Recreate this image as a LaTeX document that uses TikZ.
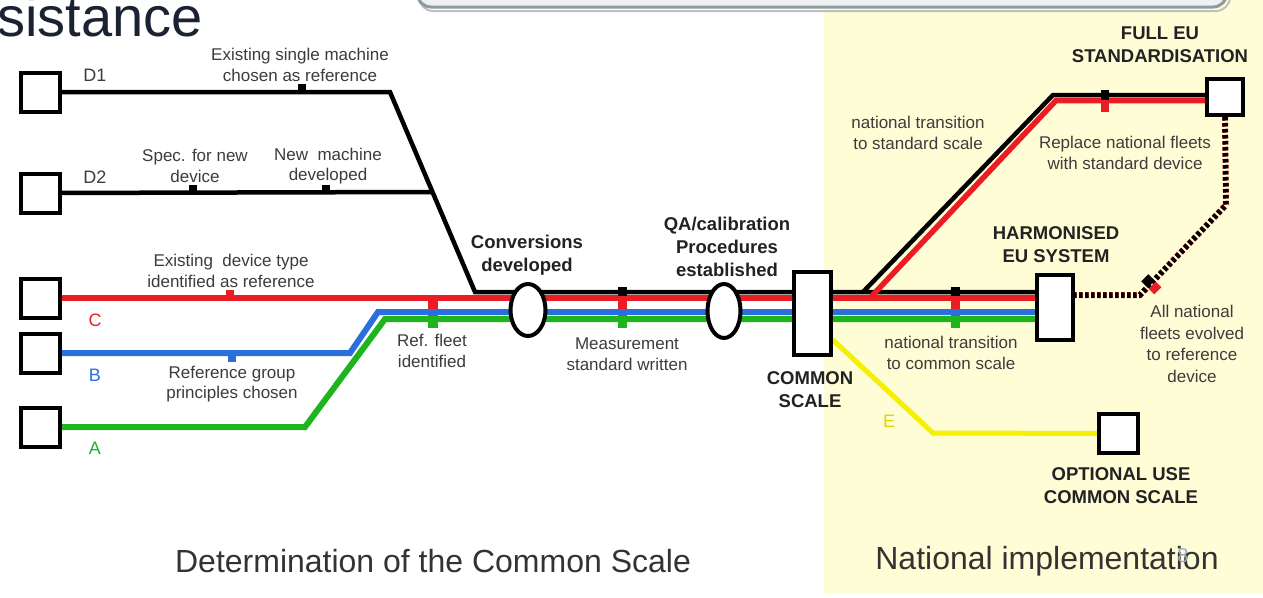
\documentclass[tikz,border=0pt]{standalone}
\usepackage{fontspec}
\setmainfont{Liberation Sans}
\usetikzlibrary{shapes.geometric}
\pgfdeclarelayer{bg}
\pgfdeclarelayer{lines}
\pgfsetlayers{bg,lines,main}
\definecolor{lred}{HTML}{EC1C24}
\definecolor{lblue}{HTML}{2A6FDB}
\definecolor{lgreen}{HTML}{1EB41E}
\definecolor{lyel}{HTML}{F4F000}
\definecolor{bgyel}{HTML}{FEFDD6}
\definecolor{labgray}{HTML}{3C3C3C}
\definecolor{boldgray}{HTML}{222222}
\definecolor{titlec}{HTML}{1B2232}
\definecolor{bottomc}{HTML}{333333}
\definecolor{boxgray}{HTML}{8E9A9E}
\definecolor{boxfill}{HTML}{EEF1F1}
\definecolor{pagenum}{HTML}{9AA8C0}
\begin{document}
\begin{tikzpicture}[x=1pt,y=-1pt,
  sqbox/.style={draw=black, line width=4pt, fill=white, inner sep=0pt, minimum width=39pt, minimum height=39pt},
  ovalbox/.style={ellipse, draw=black, line width=4pt, fill=white, inner sep=0pt},
  lbl/.style={text=labgray, align=center, inner sep=0pt, font=\fontsize{17}{20.5}\selectfont},
  blbl/.style={text=boldgray, align=center, inner sep=0pt, font=\bfseries\fontsize{18.5}{23}\selectfont},
  biglbl/.style={text=bottomc, inner sep=0pt, font=\fontsize{32}{36}\selectfont},
  blk/.style={draw=black, line width=4.5pt},
  redl/.style={draw=lred, line width=6pt},
  bluel/.style={draw=lblue, line width=6pt},
  greenl/.style={draw=lgreen, line width=6pt},
  yell/.style={draw=lyel, line width=5pt},
  dotl/.style={dash pattern=on 3.5pt off 2.5pt}
]
\useasboundingbox (0,0) rectangle (1263,597);

% ---------- background ----------
\begin{pgfonlayer}{bg}
  \fill[white] (0,0) rectangle (1263,597);
  \fill[bgyel] (824,0) rectangle (1263,593);
  \draw[line width=2pt, draw=black!25, rounded corners=14pt] (419,-40) rectangle (1230,11);
  \draw[line width=3pt, draw=boxgray, fill=boxfill, rounded corners=14pt] (417,-40) rectangle (1227,7);
\end{pgfonlayer}

\node[anchor=base west, inner sep=0pt, text=titlec, font=\fontsize{56}{60}\selectfont] (title) at (-3,36) {sistance};

% ---------- boxes ----------
\node[sqbox] (d1) at (40,92) {};
\node[sqbox] (d2) at (40,193) {};
\node[sqbox] (c) at (40,298) {};
\node[sqbox] (b) at (40,353) {};
\node[sqbox] (a) at (40,427) {};
\node[ovalbox, minimum width=35pt, minimum height=52pt] (conv) at (528,310) {};
\node[ovalbox, minimum width=33pt, minimum height=54pt] (qa) at (724,311) {};
\node[sqbox, minimum width=37pt, minimum height=83pt] (common) at (812.5,313.5) {};
\node[sqbox, minimum width=36pt, minimum height=65pt] (harm) at (1055,307.5) {};
\node[sqbox, minimum width=36pt, minimum height=36pt] (fulleu) at (1225,97) {};
\node[sqbox] (opt) at (1118.5,433.5) {};

% ---------- bend coordinates ----------
\coordinate (d1k) at (390,92);
\coordinate (m) at (475,292);
\coordinate (d2k) at (432.5,192);
\coordinate (bk1) at (350,353);
\coordinate (bk2) at (378,312);
\coordinate (ak1) at (305,427);
\coordinate (ak2) at (385,319);
\coordinate (br0) at (863,292);
\coordinate (br1) at (1053,95);
\coordinate (rr0) at (870,298);
\coordinate (rr1) at (1056,100.5);
\coordinate (dt1) at (1226,205);
\coordinate (dt2) at (1140,295);
\coordinate (yk) at (933,433);

% ---------- lines ----------
\begin{pgfonlayer}{lines}
  \draw[blk] (d1) -- (d1k) -- (m) -- (m -| harm.west);
  \draw[blk] (d2) -- (d2k);
  \draw[redl] (c) -- (c -| harm.west);
  \draw[bluel] (b) -- (bk1) -- (bk2) -- (bk2 -| harm.west);
  \draw[greenl] (a) -- (ak1) -- (ak2) -- (ak2 -| harm.west);
  \draw[redl, line width=5.5pt] (rr0) -- (rr1) -- (rr1 -| fulleu.west);
  \draw[blk] (br0) -- (br1) -- (br1 -| fulleu.west);
  \draw[yell] ([yshift=-26.5pt]common.east) -- (yk) -- (opt);
  % dotted route
  \draw[draw=lred, line width=6pt, dotl, xshift=3pt, yshift=-3pt] (fulleu.south) -- (dt1) -- (dt2) -- (dt2 -| harm.east);
  \draw[draw=black, line width=5.5pt, dotl] (fulleu.south) -- (dt1) -- (dt2) -- (dt2 -| harm.east);
  % ticks on D lines
  \fill[black] (298,84) rectangle (306,92);
  \fill[black] (189,185) rectangle (197,193);
  \fill[black] (322,185) rectangle (330,193);
  % ticks on C and B
  \fill[lred] (226,290) rectangle (234,298);
  \fill[lblue] (228,352) rectangle (236,362);
  % trunk ticks
  \fill[lred] (428,296) rectangle (438,309);
  \fill[lblue] (428,309) rectangle (438,316);
  \fill[lgreen] (428,316) rectangle (438,328);
  \foreach \tx in {618,951}{
    \fill[black] (\tx,287) rectangle (\tx+9,296);
    \fill[lred] (\tx,296) rectangle (\tx+9,309);
    \fill[lblue] (\tx,309) rectangle (\tx+9,316);
    \fill[lgreen] (\tx,316) rectangle (\tx+9,328);
  }
  % tick on top branch
  \fill[black] (1101,90) rectangle (1109,100);
  \fill[lred] (1101,100) rectangle (1109,112);
  % tick on dotted diagonal
  \node[fill=black, inner sep=0pt, minimum width=10pt, minimum height=9pt, rotate=45] (dtk1) at (1148,281) {};
  \node[fill=lred, inner sep=0pt, minimum width=10pt, minimum height=8pt, rotate=45] (dtk2) at (1155,288) {};
\end{pgfonlayer}

% ---------- labels ----------
\node[lbl, font=\fontsize{18}{20}\selectfont] (ld1) at (95,75) {D1};
\node[lbl, font=\fontsize{18}{20}\selectfont] (ld2) at (95,177) {D2};
\node[lbl, text=lred, font=\fontsize{18}{20}\selectfont] (lc) at (95,320) {C};
\node[lbl, text=lblue, font=\fontsize{18}{20}\selectfont] (lb) at (95,375) {B};
\node[lbl, text=lgreen, font=\fontsize{18}{20}\selectfont] (la) at (95,448) {A};
\node[lbl, text=lyel!90!black, font=\fontsize{18}{20}\selectfont] (le) at (889,421) {E};

\node[lbl] (t1) at (300,65) {Existing single machine\\chosen as reference};
\node[lbl] (t2) at (195,166) {Spec. for new\\device};
\node[lbl] (t3) at (328,166) {New\ \ machine\\developed};
\node[lbl] (t4) at (231,271) {Existing\ \ device type\\identified as reference};
\node[lbl] (t5) at (232,384) {Reference group\\principles chosen};
\node[lbl] (t6) at (432,351) {Ref. fleet\\identified};
\node[lbl] (t7) at (627,354) {Measurement\\standard written};
\node[lbl] (t8) at (951,353) {national transition\\to common scale};
\node[lbl] (t9) at (918,133) {national transition\\to standard scale};
\node[lbl] (t10) at (1125,153) {Replace national fleets\\with standard device};
\node[lbl, font=\fontsize{17}{21.5}\selectfont] (t11) at (1192,344) {All national\\fleets evolved\\to reference\\device};

\node[blbl] (b1) at (527,255) {Conversions\\developed};
\node[blbl] (b2) at (727,247) {QA/calibration\\Procedures\\established};
\node[blbl] (b3) at (810,390) {COMMON\\SCALE};
\node[blbl] (b4) at (1056,245) {HARMONISED\\EU SYSTEM};
\node[blbl] (b5) at (1160,45) {FULL EU\\STANDARDISATION};
\node[blbl] (b6) at (1121,486) {OPTIONAL USE\\COMMON SCALE};

\node[biglbl] (s1) at (433,561) {Determination of the Common Scale};
\node[biglbl] (s2) at (1047,561) {National implementation};
\node[inner sep=0pt, text=pagenum, font=\fontsize{20}{22}\selectfont] (pg) at (1183,556) {8};
\end{tikzpicture}
\end{document}
